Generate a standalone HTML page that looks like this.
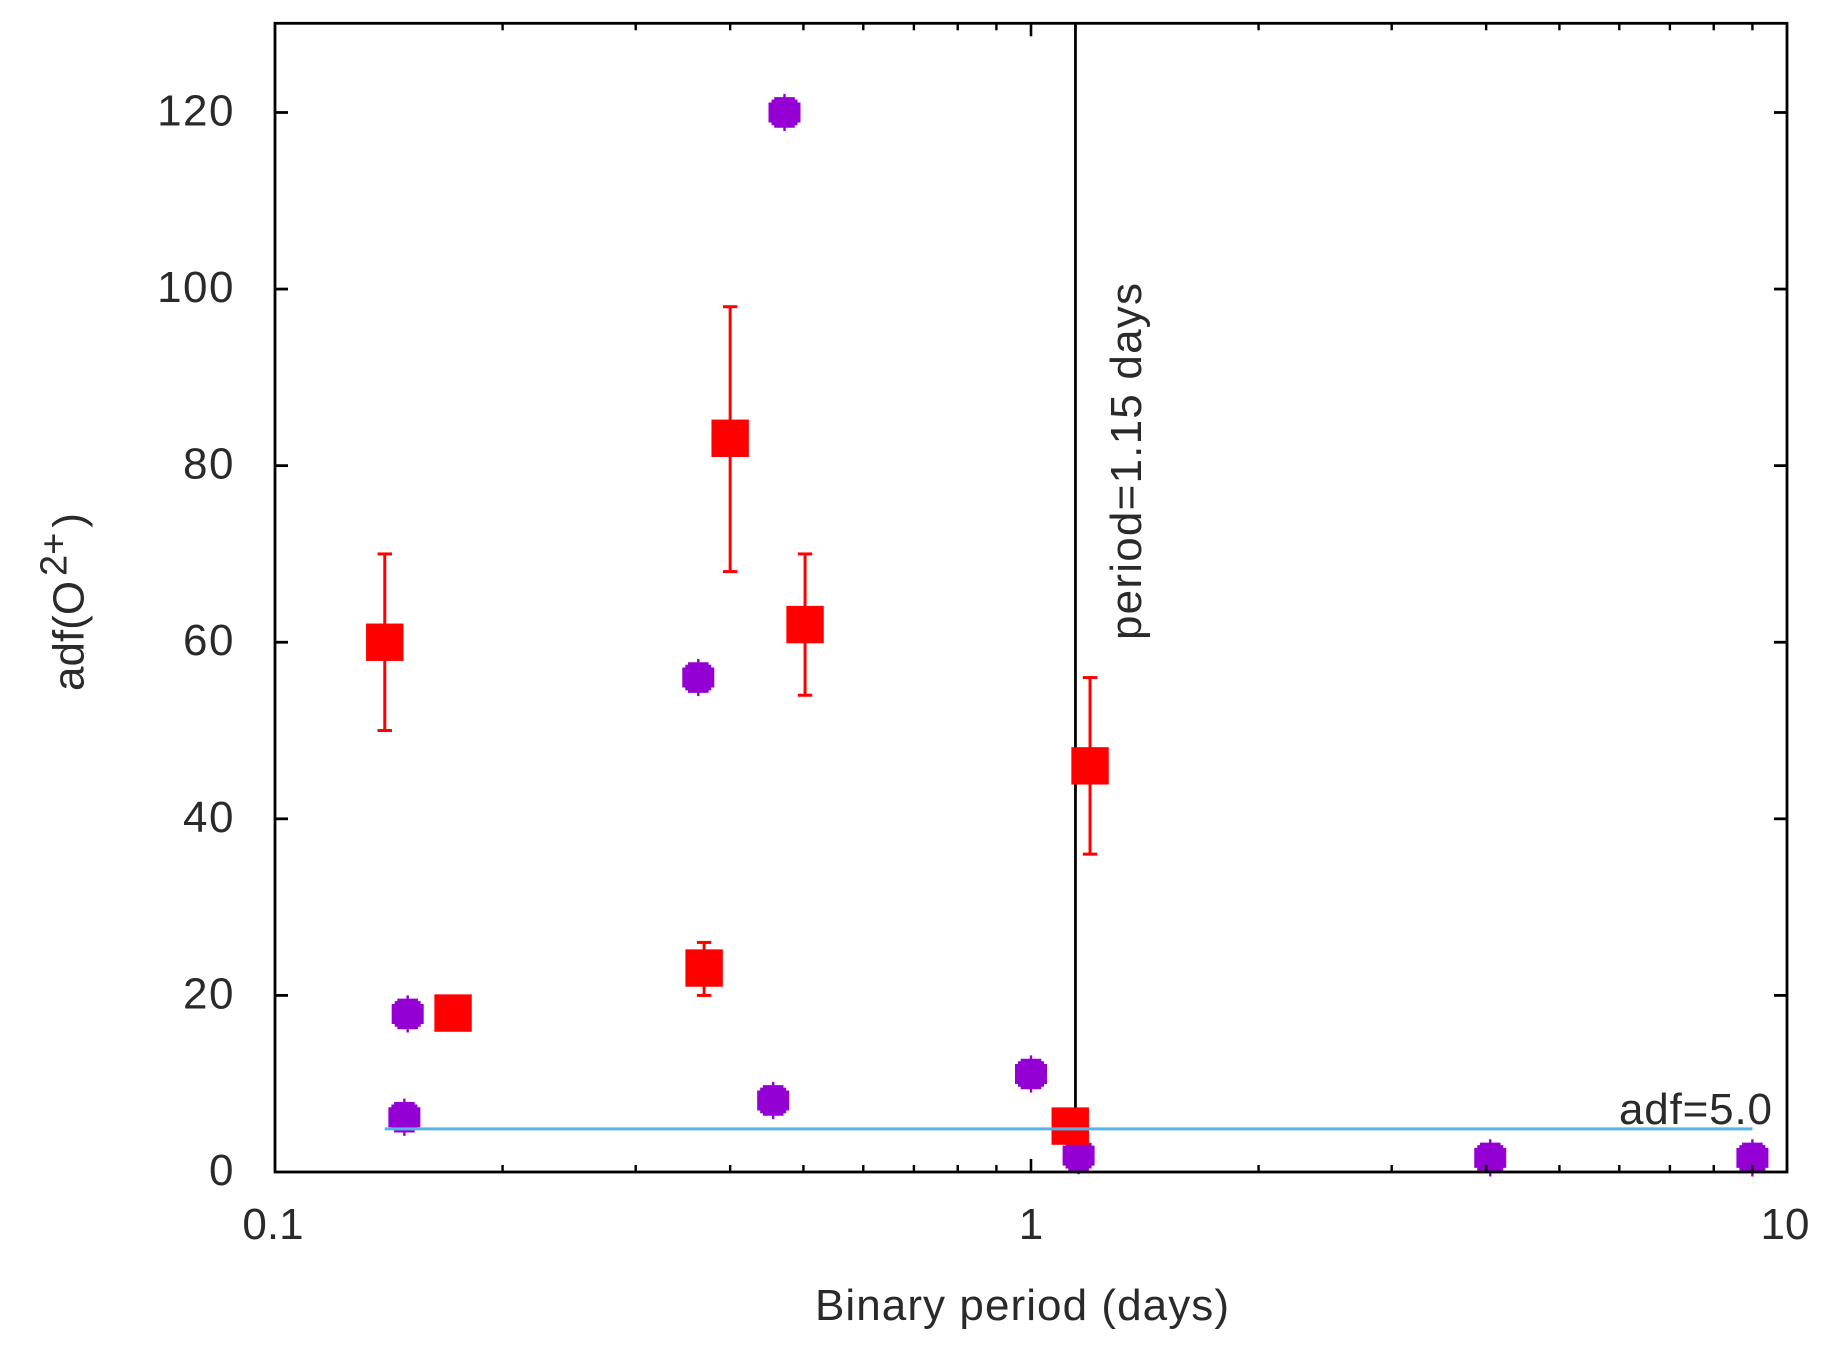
<!DOCTYPE html>
<html lang="en">
<head>
<meta charset="utf-8">
<title>adf versus binary period</title>
<style>
html,body{margin:0;padding:0;background:#fff;width:1833px;height:1353px;overflow:hidden}
svg{display:block}
text{font-family:"Liberation Sans",sans-serif;font-size:44px;fill:#2a2a2a}
</style>
</head>
<body>
<svg id="chart" xmlns="http://www.w3.org/2000/svg" width="1833" height="1353" viewBox="0 0 1833 1353">
  <rect x="0" y="0" width="1833" height="1353" fill="#ffffff"/>
  <g id="guides"></g>
  <g id="purple"></g>
  <g id="red"></g>
  <g id="over"></g>
  <g id="axes"></g>
  <g id="labels"></g>
  <text x="815" y="1320" textLength="414" lengthAdjust="spacing">Binary period (days)</text>
  <text transform="translate(83.5 691) rotate(-90)">adf(O<tspan dy="-17" dx="5" style="font-size:38px">2+</tspan><tspan dy="17" dx="5">)</tspan></text>
  <text transform="translate(1141 640) rotate(-90)" textLength="357" lengthAdjust="spacing">period=1.15 days</text>
  <text x="1619" y="1124" textLength="153" lengthAdjust="spacing">adf=5.0</text>
</svg>
<script>
const xTickValues = [0.1, 1, 10];
const xTickLabels = ["0.1", "1", "10"];
const xMinorTicks = [0.2, 0.3, 0.4, 0.5, 0.6, 0.7, 0.8, 0.9, 2, 3, 4, 5, 6, 7, 8, 9];
const yTickValues = [0, 20, 40, 60, 80, 100, 120];
const yTickLabels = ["0", "20", "40", "60", "80", "100", "120"];

const redPeriod = [0.1397, 0.172, 0.3695, 0.4, 0.5025, 1.127, 1.197];
const redAdf = [60, 18, 23.1, 83.1, 62, 5.2, 46];
const redHigh = [70, null, 26, 98, 70, null, 56];
const redLow = [50, null, 20, 68, 54, null, 36];

const purplePeriod = [0.1498, 0.1483, 0.363, 0.456, 0.472, 1.0, 1.156, 4.05, 9.0];
const purpleAdf = [17.9, 6.2, 56, 8.1, 120, 11.1, 1.85, 1.6, 1.6];

const periodLineValue = [1.145];
const adfLineValue = [4.88];
const adfLinePeriodRange = [0.1397, 9.0];
const xDomain = [0.1, 10];
const yDomain = [0, 130.1];

const NS = "http://www.w3.org/2000/svg";
const plotLeft = 275, plotRight = 1787, plotBottom = 1172, plotHeight = 1148.7;

function xScale(p) {
  return plotLeft + (plotRight - plotLeft) * Math.log10(p / xDomain[0]) / Math.log10(xDomain[1] / xDomain[0]);
}
function yScale(v) {
  return plotBottom - plotHeight * (v - yDomain[0]) / (yDomain[1] - yDomain[0]);
}
function make(parent, tag, attrs) {
  const el = document.createElementNS(NS, tag);
  for (const k in attrs) el.setAttribute(k, attrs[k]);
  parent.appendChild(el);
  return el;
}
function seg(parent, x1, y1, x2, y2, color, w) {
  return make(parent, "line", { x1: x1, y1: y1, x2: x2, y2: y2, stroke: color, "stroke-width": w });
}
function markerPath(cx, cy) {
  const steps = [[16, 10], [13, 12.8], [10.3, 15.3], [1.2, 18.6]];
  const pts = [];
  steps.slice().reverse().forEach(function (s) {
    pts.push([cx + s[0], cy - s[1]]);
    pts.push([cx + s[0], cy - (s === steps[0] ? -s[1] : steps[steps.indexOf(s) - 1][1])]);
  });
  for (let i = 1; i < steps.length; i++) {
    pts.push([cx + steps[i][0], cy + steps[i - 1][1]]);
    pts.push([cx + steps[i][0], cy + steps[i][1]]);
  }
  const n = pts.length;
  for (let i = n - 1; i >= 0; i--) {
    pts.push([2 * cx - pts[i][0], pts[i][1]]);
  }
  return "M" + pts.map(function (q) { return q[0].toFixed(2) + " " + q[1].toFixed(2); }).join("L") + "Z";
}

const guides = document.getElementById("guides");
const purple = document.getElementById("purple");
const red = document.getElementById("red");
const over = document.getElementById("over");
const axes = document.getElementById("axes");
const labels = document.getElementById("labels");
const plotTop = yScale(yDomain[1]);

const vLine = seg(guides, xScale(periodLineValue[0]), plotTop, xScale(periodLineValue[0]), plotBottom, "#000000", 2.8);



purplePeriod.forEach(function (p, i) {
  const m = make(purple, "path", { d: markerPath(xScale(p), yScale(purpleAdf[i])), fill: "#9400d3" });
  
  
});

redPeriod.forEach(function (p, i) {
  const cx = xScale(p), cy = yScale(redAdf[i]);
  if (redHigh[i] !== null) {
    const g = make(red, "g", {});
    
    
    seg(g, cx, yScale(redHigh[i]), cx, yScale(redLow[i]), "#ff0000", 3);
    seg(g, cx - 7.2, yScale(redHigh[i]), cx + 7.2, yScale(redHigh[i]), "#ff0000", 3);
    seg(g, cx - 7.2, yScale(redLow[i]), cx + 7.2, yScale(redLow[i]), "#ff0000", 3);
  }
  const s = make(red, "rect", { x: cx - 18.7, y: cy - 18.7, width: 37.4, height: 37.4, fill: "#ff0000" });
  
  
});

const hLine = seg(over, xScale(adfLinePeriodRange[0]), yScale(adfLineValue[0]), xScale(adfLinePeriodRange[1]), yScale(adfLineValue[0]), "#56b4e9", 3);



const frame = make(axes, "rect", { x: plotLeft, y: plotTop, width: plotRight - plotLeft, height: plotBottom - plotTop, fill: "none", stroke: "#000000", "stroke-width": 2.8 });



xTickValues.forEach(function (v, i) {
  const x = xScale(v);
  if (v > xDomain[0] && v < xDomain[1]) {
    const a = seg(axes, x, plotBottom, x, plotBottom - 13, "#000000", 2.6);
    
    
    const b = seg(axes, x, plotTop, x, plotTop + 13, "#000000", 2.6);
    
    
  }
  const t = make(labels, "text", { x: x + (i === 0 ? -2 : i === 2 ? -2 : 0), y: 1239, "text-anchor": "middle" });
  t.textContent = xTickLabels[i];
  
  
});

xMinorTicks.forEach(function (v) {
  const x = xScale(v);
  const a = seg(axes, x, plotBottom, x, plotBottom - 7, "#000000", 2.4);
  
  
  const b = seg(axes, x, plotTop, x, plotTop + 7, "#000000", 2.4);
  
  
});

yTickValues.forEach(function (v, i) {
  const y = yScale(v);
  if (v > yDomain[0]) {
    const a = seg(axes, plotLeft, y, plotLeft + 13, y, "#000000", 2.8);
    
    
    const b = seg(axes, plotRight, y, plotRight - 13, y, "#000000", 2.8);
    
    
  }
  const t = make(labels, "text", { x: 235, y: y + 13, "text-anchor": "end", "letter-spacing": "1.5" });
  t.textContent = yTickLabels[i];
  
  
});
</script>
</body>
</html>
